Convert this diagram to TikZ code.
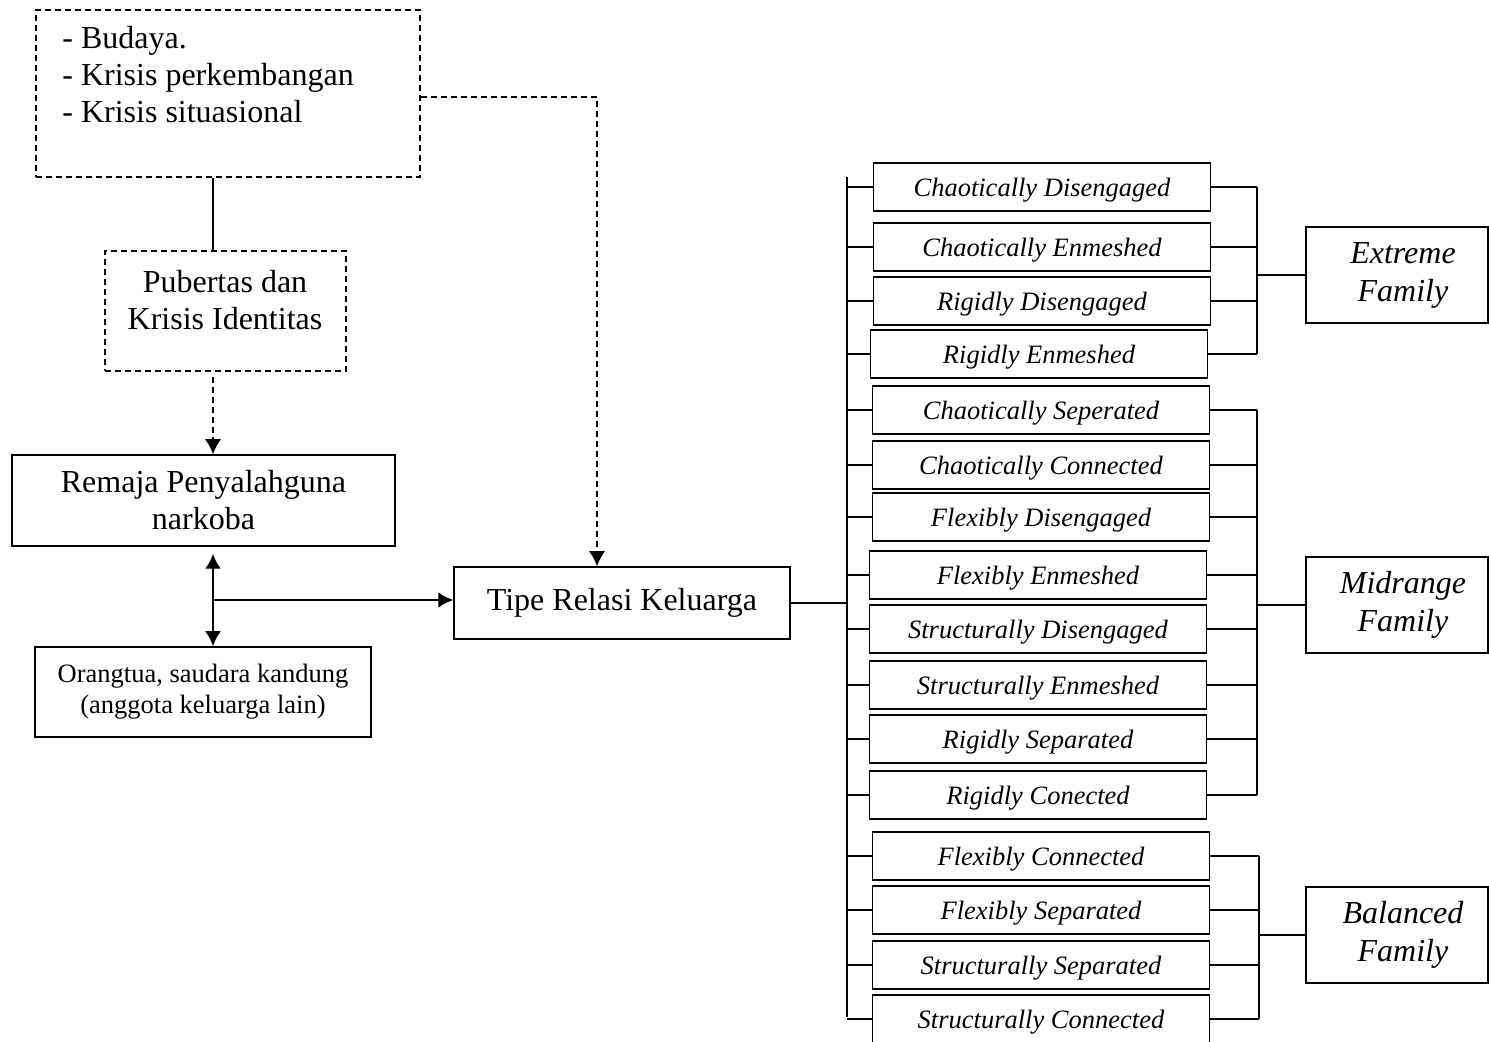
\documentclass[tikz,border=0pt]{standalone}
\usepackage{fontspec}
\setmainfont{Liberation Serif}
\usetikzlibrary{arrows.meta}

\tikzset{
	box/.style={draw, line width=0.75pt, inner sep=0pt, align=center, font=\fontsize{16}{18.5}\selectfont},
	dashbox/.style={box, dash pattern=on 3pt off 2pt},
	smallbox/.style={box, font=\fontsize{13.25}{15.4}\selectfont},
	typebox/.style={draw, line width=0.75pt, inner sep=0pt, minimum width=168.5pt, minimum height=24pt, text height=9.5pt, text depth=0pt, font=\fontsize{13.25}{15.4}\selectfont\itshape},
	famibox/.style={box, minimum width=91pt, minimum height=48pt, font=\fontsize{16}{19}\selectfont\itshape},
	link/.style={line width=0.75pt},
	dashlink/.style={line width=0.75pt, dash pattern=on 3pt off 2pt},
	mainlink/.style={line width=1.25pt},
	tip/.style={-{Latex[length=7.5pt,width=8pt]}},
	twotips/.style={{Latex[length=7.5pt,width=8pt]}-{Latex[length=7.5pt,width=8pt]}},
}

\begin{document}
\begin{tikzpicture}[x=0.5pt, y=-0.5pt]
	\useasboundingbox (0,0) rectangle (1489,1042);

	% left side
	\node[dashbox, minimum width=192pt, minimum height=83.5pt] (faktor) at (228,93.5) {};
	\node[anchor=west, align=left, inner sep=0pt, font=\fontsize{16}{18.5}\selectfont] (faktortxt) at (62,75) {- Budaya.\\- Krisis perkembangan\\- Krisis situasional};
	\node[dashbox, minimum width=120.5pt, minimum height=60pt] (pubertas) at (225.5,311) {};
	\node[align=center, inner sep=0pt, font=\fontsize{16}{18.5}\selectfont] (pubertastxt) at (225,300) {Pubertas dan\\Krisis Identitas};
	\node[box, minimum width=191.5pt, minimum height=45.5pt] (remaja) at (203.5,500.5) {Remaja Penyalahguna\\narkoba};
	\node[smallbox, minimum width=168pt, minimum height=45pt] (ortu) at (203,692) {Orangtua, saudara kandung\\(anggota keluarga lain)};
	\node[box, minimum width=168pt, minimum height=36pt] (tipe) at (622,603) {Tipe Relasi Keluarga};

	\coordinate (trunk) at (213,600);
	\coordinate (bend) at (597,97);
	\coordinate (spinetop) at (847,177);
	\coordinate (spinebot) at (847,1017);

	\draw[link] (faktor.south -| trunk) -- (pubertas.north -| trunk);
	\draw[dashlink, tip, shorten <=2.5pt] (pubertas.south -| trunk) -- (remaja.north -| trunk);
	\draw[dashlink, tip] (faktor.east |- bend) -- (bend) -- (bend |- tipe.north);
	\draw[mainlink, twotips, shorten <=3.5pt] (remaja.south -| trunk) -- (ortu.north -| trunk);
	\draw[mainlink, tip] (trunk) -- (trunk -| tipe.west);
	\draw[link] (tipe.east) -- (tipe.east -| spinetop);
	\draw[link] (spinetop) -- (spinebot);

	% family types
	\foreach \n/\cx/\cy/\lbl in {
		1/1042/187/Chaotically Disengaged,
		2/1042/247/Chaotically Enmeshed,
		3/1042/301/Rigidly Disengaged,
		4/1039/354/Rigidly Enmeshed,
		5/1041/410/Chaotically Seperated,
		6/1041/465/Chaotically Connected,
		7/1041/517/Flexibly Disengaged,
		8/1038/575/Flexibly Enmeshed,
		9/1038/629/Structurally Disengaged,
		10/1038/685/Structurally Enmeshed,
		11/1038/739/Rigidly Separated,
		12/1038/795/Rigidly Conected,
		13/1041/856/Flexibly Connected,
		14/1041/910/Flexibly Separated,
		15/1041/965/Structurally Separated,
		16/1041/1019/Structurally Connected}{
		\node[typebox] (type\n) at (\cx,\cy) {\lbl};
		\draw[link] (type\n.west) -- (type\n.west -| spinetop);
	}

	% groups
	\coordinate (brA) at (1257,0);
	\coordinate (brB) at (1257,0);
	\coordinate (brC) at (1259,0);
	\node[famibox] (extreme) at (1397,275) {\hspace*{6pt}Extreme\\\hspace*{6pt}Family};
	\node[famibox] (midrange) at (1397,605) {\hspace*{6pt}Midrange\\\hspace*{6pt}Family};
	\node[famibox] (balanced) at (1397,935) {\hspace*{6pt}Balanced\\\hspace*{6pt}Family};

	\foreach \n in {1,...,4}
		\draw[link] (type\n.east) -- (type\n.east -| brA);
	\draw[link] (type1.east -| brA) -- (type4.east -| brA);
	\draw[link] (extreme.west) -- (extreme.west -| brA);

	\foreach \n in {5,...,12}
		\draw[link] (type\n.east) -- (type\n.east -| brB);
	\draw[link] (type5.east -| brB) -- (type12.east -| brB);
	\draw[link] (midrange.west) -- (midrange.west -| brB);

	\foreach \n in {13,...,16}
		\draw[link] (type\n.east) -- (type\n.east -| brC);
	\draw[link] (type13.east -| brC) -- (type16.east -| brC);
	\draw[link] (balanced.west) -- (balanced.west -| brC);
\end{tikzpicture}
\end{document}
